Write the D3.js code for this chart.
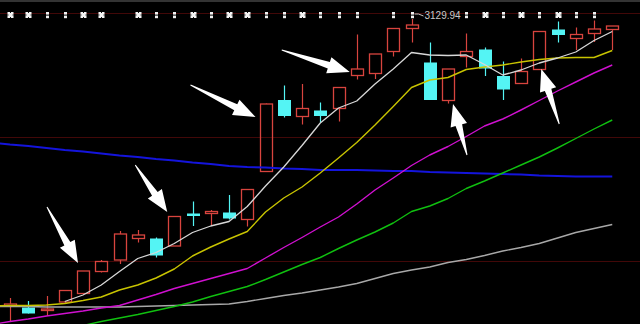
<!DOCTYPE html>
<html>
<head>
<meta charset="utf-8">
<script src="https://cdn.jsdelivr.net/npm/d3@7"></script>
<style>
  html, body { margin: 0; padding: 0; background: #000; }
  svg { display: block; }
</style>
</head>
<body>
<svg id="chart"></svg>
<script>
// day 0 is the earlier day that is cut off at the left edge
const days = d3.range(35);

const opens  = [2560, 2556, 2553, 2547, 2564, 2581, 2625, 2648, 2691, 2691, 2676, 2741, 2741, 2743, 2729, 2825, 2968, 2935, 2947, 2951, 3017, 3021, 3065, 3111, 3043, 2967, 3055, 3069, 3016, 3001, 3029, 3109, 3091, 3101, 3109];
const highs  = [2570, 2572, 2566, 2576, 2587, 2626, 2648, 2706, 2708, 2693, 2735, 2765, 2748, 2778, 2789, 2961, 2997, 3000, 2963, 2993, 3099, 3060, 3111, 3129.94, 3083, 3030, 3101, 3073, 3045, 3051, 3105, 3125, 3113, 3127, 3116];
const lows   = [2540, 2525, 2541, 2536, 2560, 2580, 2623, 2640, 2683, 2653, 2676, 2716, 2718, 2729, 2715, 2825, 2933, 2919, 2923, 2925, 3009, 3010, 3055, 3083, 2968, 2961, 3033, 3016, 2968, 3000, 3029, 3083, 3068, 3084, 3068];
const closes = [2556, 2560, 2541, 2550, 2587, 2626, 2645, 2700, 2698, 2657, 2735, 2736, 2745, 2731, 2789, 2960, 2936, 2951, 2936, 2993, 3030, 3060, 3111, 3118, 2968, 3030, 3065, 3031, 2989, 3025, 3105, 3098, 3099, 3110, 3116];

// moving averages
const ma5   = [null, null, null, null, 2565, 2578, 2598, 2625, 2651, 2663, 2681, 2703, 2716, 2725, 2755, 2796, 2834, 2877, 2922, 2952, 2966, 3000, 3030, 3063, 3058, 3057, 3058, 3039, 3018, 3028, 3042, 3052, 3064, 3087, 3105];
const ma10  = [2556, 2557, 2557, 2558, 2561, 2567, 2574, 2588, 2598, 2612, 2630, 2656, 2674, 2690, 2705, 2744, 2772, 2794, 2822, 2852, 2883, 2918, 2955, 2993, 3008, 3013, 3029, 3034, 3038, 3044, 3049, 3052, 3053, 3053, 3067];
const ma20  = [2519, 2525, 2530, 2536, 2541, 2546, 2552, 2557, 2568, 2579, 2591, 2601, 2611, 2621, 2631, 2652, 2673, 2693, 2714, 2734, 2760, 2788, 2812, 2837, 2858, 2875, 2895, 2916, 2930, 2948, 2967, 2986, 3004, 3022, 3038];
const ma30  = [2480, 2488, 2496, 2503, 2510, 2517, 2525, 2532, 2539, 2547, 2555, 2564, 2575, 2585, 2595, 2609, 2624, 2639, 2653, 2671, 2688, 2704, 2722, 2745, 2756, 2771, 2791, 2806, 2822, 2838, 2854, 2872, 2891, 2910, 2928];
const ma60  = [2555, 2555, 2555, 2554, 2554, 2554, 2554, 2554, 2555, 2556, 2557, 2558, 2559, 2560, 2565, 2571, 2577, 2582, 2588, 2594, 2601, 2611, 2621, 2628, 2634, 2643, 2649, 2657, 2666, 2673, 2681, 2692, 2703, 2711, 2719];
const ma250 = [2883, 2879, 2876, 2872, 2868, 2865, 2861, 2857, 2854, 2850, 2847, 2843, 2840, 2836, 2834, 2833, 2831, 2830, 2828, 2828, 2828, 2827, 2826, 2826, 2824, 2823, 2822, 2821, 2820, 2819, 2817, 2816, 2815, 2815, 2815];

// info markers on the top row: S = star, V = bar, - = none
const markers = '-SSVVSS-SVVSVSSVVSVVV-VV--VSVSVSVV-'.split('');
const highLabel = '3129.94';

// hand drawn arrows: day, tip price, tip shift and tail shift in px
const arrows = [
  { day: 5,  price: 2642, dx: -5,  tail: [-31, -56] },
  { day: 10, price: 2744, dx: -7,  tail: [-32, -47] },
  { day: 15, price: 2934, dx: -10, tail: [-65, -32] },
  { day: 20, price: 3024, dx: -7,  tail: [-68, -22] },
  { day: 25, price: 2960, dx: 5,   tail: [14, 51] },
  { day: 30, price: 3030, dx: 2,   tail: [18, 55] }
];

const width = 640, height = 324;
const upColor = '#d8443e', downColor = '#54f4f4';

const svg = d3.select('#chart')
    .attr('width', width)
    .attr('height', height)
    .style('background', '#000');

const x = d3.scaleLinear().domain([0, 34]).range([-8.25, 612.25]);
const y = d3.scaleLinear().domain([2540, 3130]).range([314, 19]);

// frame and grid
svg.append('rect').attr('x', 0).attr('y', 0).attr('width', width).attr('height', 2).attr('fill', '#343434');
[13, 137, 261].forEach(gy => {
    svg.append('line')
        .attr('x1', 0).attr('x2', width)
        .attr('y1', gy + 0.5).attr('y2', gy + 0.5)
        .attr('stroke', '#420808').attr('stroke-width', 1);
});

const plot = svg.append('g');

// candles
const bars = days.map(d => ({ d, o: opens[d], h: highs[d], l: lows[d], c: closes[d] }));
const candle = plot.selectAll('.candle').data(bars).enter().append('g').attr('class', 'candle');

candle.each(function (b) {
    const g = d3.select(this);
    const cx = Math.round(x(b.d));
    const up = b.c >= b.o;
    const top = y(Math.max(b.o, b.c)), bot = y(Math.min(b.o, b.c));
    if (up) {
        g.append('line').attr('x1', cx + 0.5).attr('x2', cx + 0.5).attr('y1', y(b.h)).attr('y2', top)
            .attr('stroke', upColor).attr('stroke-width', 1.2);
        g.append('line').attr('x1', cx + 0.5).attr('x2', cx + 0.5).attr('y1', bot).attr('y2', y(b.l))
            .attr('stroke', upColor).attr('stroke-width', 1.2);
        g.append('rect')
            .attr('x', cx - 6 + 0.5).attr('y', top)
            .attr('width', 12).attr('height', Math.max(1, bot - top))
            .attr('fill', 'none').attr('stroke', upColor).attr('stroke-width', 1.3);
    } else {
        g.append('line').attr('x1', cx + 0.5).attr('x2', cx + 0.5).attr('y1', y(b.h)).attr('y2', y(b.l))
            .attr('stroke', downColor).attr('stroke-width', 1.2);
        g.append('rect')
            .attr('x', cx - 6).attr('y', top)
            .attr('width', 13).attr('height', Math.max(1.5, bot - top))
            .attr('fill', downColor);
    }
});

// moving average lines
const maLines = [
    { values: ma250, color: '#1414dc', w: 2 },
    { values: ma60,  color: '#a8a8a8', w: 1.4 },
    { values: ma30,  color: '#10c010', w: 1.4 },
    { values: ma20,  color: '#d010d0', w: 1.4 },
    { values: ma10,  color: '#c8c400', w: 1.4 },
    { values: ma5,   color: '#d8d8d8', w: 1.3 }
];
const line = d3.line()
    .defined(d => d.v != null)
    .x(d => x(d.d))
    .y(d => y(d.v));

maLines.forEach(m => {
    plot.append('path')
        .datum(days.map(d => ({ d, v: m.values[d] })))
        .attr('d', line)
        .attr('fill', 'none')
        .attr('stroke', m.color)
        .attr('stroke-width', m.w)
        .attr('stroke-linejoin', 'round');
});

// marker row
const markY = 15;
days.forEach(d => {
    const cx = Math.round(x(d)) + 0.5;
    if (markers[d] === 'S') {
        svg.append('rect').attr('x', cx - 3).attr('y', markY - 3).attr('width', 6).attr('height', 6).attr('fill', '#f4f4f4');
        svg.append('path')
            .attr('d', `M${cx - 3},${markY}h1M${cx + 2},${markY}h1M${cx},${markY - 3}v1M${cx},${markY + 2}v1`)
            .attr('stroke', '#000').attr('stroke-width', 0.9);
    } else if (markers[d] === 'V') {
        svg.append('rect').attr('x', cx - 1.5).attr('y', markY - 3).attr('width', 3).attr('height', 2.6).attr('fill', '#f0f0f0');
        svg.append('rect').attr('x', cx - 1.5).attr('y', markY + 0.6).attr('width', 3).attr('height', 2.6).attr('fill', '#f0f0f0');
    }
});

// highest price label
const hiDay = d3.maxIndex(highs);
const hx = Math.round(x(hiDay)) + 0.5;
svg.append('path')
    .attr('d', `M${hx + 2},${markY - 1} L${hx + 6},${markY - 1} L${hx + 11},${markY + 1}`)
    .attr('fill', 'none').attr('stroke', '#c8c8c8').attr('stroke-width', 1);
svg.append('text')
    .attr('x', hx + 12).attr('y', markY + 4)
    .attr('fill', '#c8c8c8')
    .style('font-family', 'Liberation Sans, Arial, sans-serif')
    .style('font-size', '10px')
    .text(highLabel);

// arrows
function arrowPath(tx, ty, hx, hy) {
    const dx = hx - tx, dy = hy - ty, len = Math.hypot(dx, dy);
    const ux = dx / len, uy = dy / len, nx = -uy, ny = ux;
    const headL = 22, headW = 8.5, shaftW = 3.4, tailW = 0.5;
    const bx = hx - ux * headL, by = hy - uy * headL;
    const pts = [
        [tx + nx * tailW, ty + ny * tailW],
        [bx + nx * shaftW, by + ny * shaftW],
        [bx + nx * headW, by + ny * headW],
        [hx, hy],
        [bx - nx * headW, by - ny * headW],
        [bx - nx * shaftW, by - ny * shaftW],
        [tx - nx * tailW, ty - ny * tailW]
    ];
    return 'M' + pts.map(p => p.join(',')).join('L') + 'Z';
}
arrows.forEach(a => {
    const hx = x(a.day) + a.dx, hy = y(a.price);
    svg.append('path')
        .attr('d', arrowPath(hx + a.tail[0], hy + a.tail[1], hx, hy))
        .attr('fill', '#ffffff');
});
</script>
</body>
</html>
